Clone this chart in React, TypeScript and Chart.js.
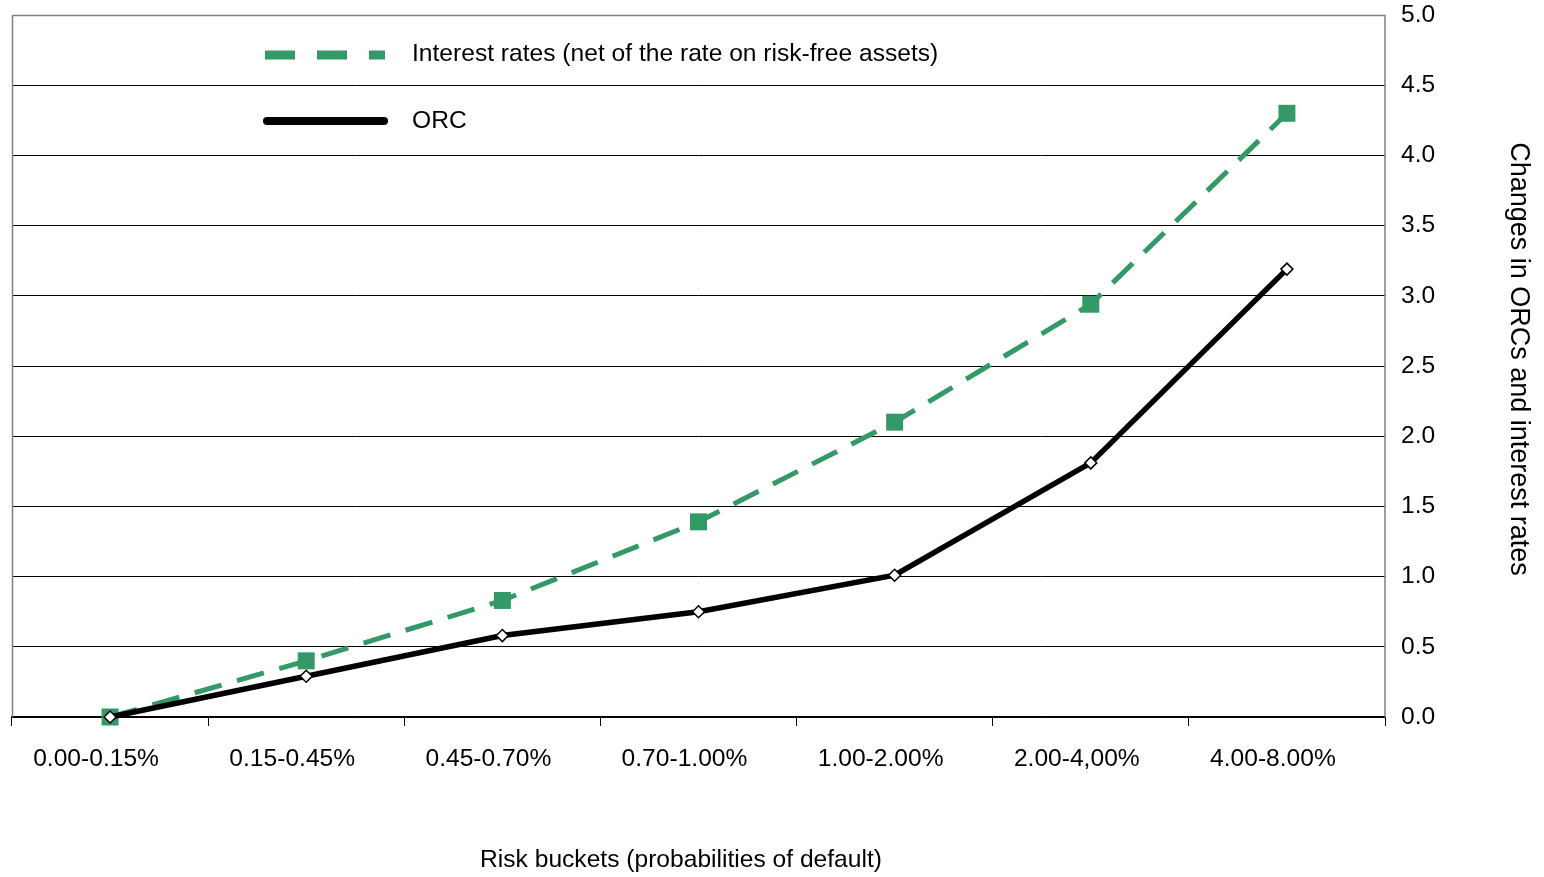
import { useEffect, useRef } from "react"
import { Chart, registerables } from "chart.js"

Chart.register(...registerables)

const categories = ["0.00-0.15%", "0.15-0.45%", "0.45-0.70%", "0.70-1.00%", "1.00-2.00%", "2.00-4,00%", "4.00-8.00%"]
const interestRates = [0, 0.4, 0.83, 1.39, 2.1, 2.94, 4.3]
const orc = [0, 0.29, 0.58, 0.75, 1.01, 1.81, 3.19]

const FONT = "'Liberation Sans', Arial, sans-serif"
const FONT_SIZE = 24.6
const GREEN = "#339966"

export default function App() {
  const chartRef = useRef<HTMLCanvasElement>(null)
  const chartInstance = useRef<Chart | null>(null)

  useEffect(() => {
    if (!chartRef.current) return
    if (chartInstance.current) chartInstance.current.destroy()

    // plot border, legend and axis titles
    const decorations = {
      id: "decorations",
      beforeDatasetsDraw(chart: any) {
        const { ctx, chartArea } = chart
        ctx.save()
        ctx.strokeStyle = "#808080"
        ctx.lineWidth = 1.5
        ctx.beginPath()
        ctx.moveTo(chartArea.left + 0.5, chartArea.bottom)
        ctx.lineTo(chartArea.left + 0.5, chartArea.top + 0.5)
        ctx.lineTo(chartArea.right, chartArea.top + 0.5)
        ctx.lineTo(chartArea.right, chartArea.bottom)
        ctx.stroke()
        ctx.restore()
      },
      afterDraw(chart: any) {
        const { ctx } = chart
        ctx.save()
        // legend
        ctx.strokeStyle = GREEN
        ctx.lineWidth = 9
        ctx.setLineDash([30, 22])
        ctx.beginPath()
        ctx.moveTo(265, 55)
        ctx.lineTo(385, 55)
        ctx.stroke()
        ctx.setLineDash([])
        ctx.strokeStyle = "#000"
        ctx.lineWidth = 8
        ctx.lineCap = "round"
        ctx.beginPath()
        ctx.moveTo(267, 121)
        ctx.lineTo(384, 121)
        ctx.stroke()
        ctx.fillStyle = "#000"
        ctx.font = `${FONT_SIZE}px ${FONT}`
        ctx.textBaseline = "middle"
        ctx.textAlign = "left"
        ctx.fillText("Interest rates (net of the rate on risk-free assets)", 412, 54)
        ctx.fillText("ORC", 412, 121)
        // x axis title
        ctx.textAlign = "center"
        ctx.fillText("Risk buckets (probabilities of default)", 681, 860)
        // y axis title, reads top to bottom
        ctx.translate(1518, 359)
        ctx.rotate(Math.PI / 2)
        ctx.font = `27px ${FONT}`
        ctx.fillText("Changes in ORCs and interest rates", 0, 0)
        ctx.restore()
      },
    }

    chartInstance.current = new Chart(chartRef.current, {
      type: "line",
      data: {
        labels: categories,
        datasets: [
          {
            label: "Interest rates (net of the rate on risk-free assets)",
            data: interestRates,
            borderColor: GREEN,
            backgroundColor: GREEN,
            borderWidth: 5,
            borderDash: [28, 16],
            pointStyle: "rect",
            pointRadius: 12,
            pointBorderWidth: 0,
            pointBackgroundColor: GREEN,
            tension: 0,
            clip: false,
            order: 1,
          },
          {
            label: "ORC",
            data: orc,
            borderColor: "#000",
            backgroundColor: "#fff",
            borderWidth: 5.5,
            pointStyle: "rectRot",
            pointRadius: 6,
            pointBorderWidth: 1.5,
            pointBorderColor: "#000",
            pointBackgroundColor: "#fff",
            tension: 0,
            clip: false,
            order: 0,
          },
        ],
      },
      options: {
        responsive: true,
        maintainAspectRatio: false,
        animation: false,
        layout: { padding: { left: 10, top: 0, right: 0, bottom: 0 } },
        plugins: {
          legend: { display: false },
          tooltip: { enabled: false },
        },
        scales: {
          x: {
            offset: true,
            grid: {
              drawOnChartArea: false,
              offset: true,
              tickLength: 9,
              color: "#000",
            },
            border: { color: "#000", width: 1.5 },
            ticks: {
              color: "#000",
              font: { family: FONT, size: FONT_SIZE },
              padding: 18,
              labelOffset: -14,
              maxRotation: 0,
              autoSkip: false,
            },
            afterFit: (scale: any) => {
              scale.height = 160
            },
          },
          y: {
            position: "right",
            min: 0,
            max: 5,
            grid: { color: "#000", lineWidth: 1, drawTicks: false },
            border: { display: false },
            ticks: {
              stepSize: 0.5,
              color: "#000",
              font: { family: FONT, size: FONT_SIZE },
              padding: 16,
              callback: (value: any) => Number(value).toFixed(1),
            },
            afterFit: (scale: any) => {
              scale.width = 159
              scale.paddingTop = 15
              scale.paddingBottom = 0
            },
          },
        },
      },
      plugins: [decorations],
    })

    return () => {
      if (chartInstance.current) {
        chartInstance.current.destroy()
        chartInstance.current = null
      }
    }
  }, [])

  return (
    <div style={{ position: "fixed", left: 0, top: 0, width: 1544, height: 877, background: "#fff" }}>
      <canvas ref={chartRef}></canvas>
    </div>
  )
}
